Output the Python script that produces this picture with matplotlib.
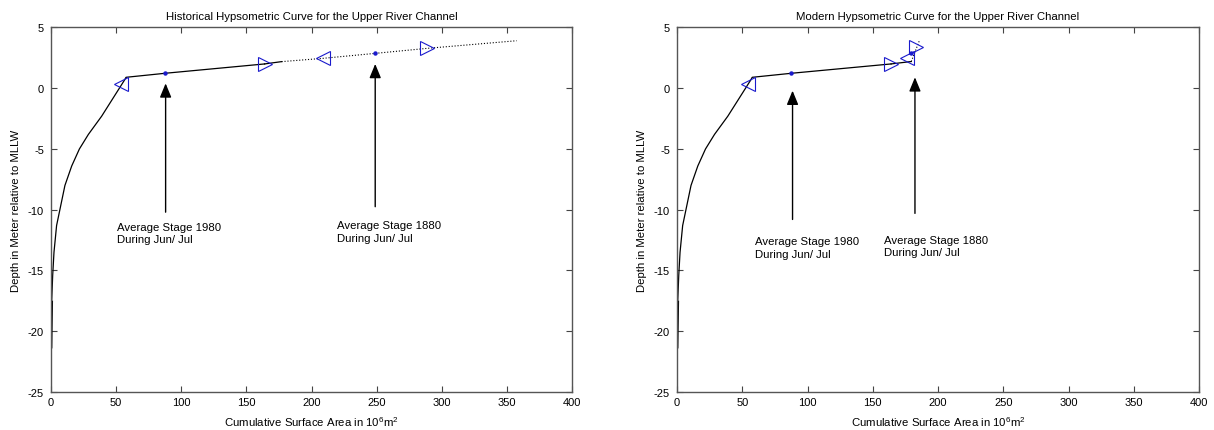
import matplotlib.pyplot as plt

plt.rcParams["font.family"] = ["Liberation Sans", "DejaVu Sans"]
plt.rcParams["axes.unicode_minus"] = False
plt.rcParams["mathtext.default"] = "regular"

# bathymetric curve (shared by both periods), area in 10^6 m^2 vs depth in m
curve_area = [0.0, 0.5, 1.3, 2.3, 4.3, 7.4, 10.7, 15.9, 21.8, 28.7, 38.9,
              56.6, 57.6, 87.5, 164.0]
curve_depth = [-21.3, -17.6, -15.4, -13.5, -11.3, -9.7, -8.0, -6.4, -5.0,
               -3.8, -2.3, 0.7, 0.9, 1.23, 2.0]

# historical extension
hist_end_area = [164.0, 177.0]
hist_end_depth = [2.0, 2.19]
hist_dot_area = [177.0, 208.7, 248.9, 288.5, 357.5]
hist_dot_depth = [2.19, 2.46, 2.87, 3.28, 3.91]

# modern extension
mod_end_area = [164.0, 179.5]
mod_end_depth = [2.0, 2.2]
mod_dot_area = [179.5, 182.0, 186.0]
mod_dot_depth = [2.2, 2.9, 4.0]

# marker positions: (left triangle, stage dot, right triangle)
hist_left_tri = ([54.0, 208.7], [0.36, 2.46])
hist_right_tri = ([164.0, 288.5], [2.0, 3.28])
hist_stage_dot = ([87.5, 248.9], [1.23, 2.87])

mod_left_tri = ([54.0, 176.0], [0.36, 2.46])
mod_right_tri = ([164.0, 183.1], [2.0, 3.42])
mod_stage_dot = ([87.5, 179.6], [1.23, 2.93])

# arrows: (x, tip y, tail y)
hist_arrows = [(88.0, 0.4, -10.2), (248.9, 2.0, -9.75)]
mod_arrows = [(88.5, -0.2, -10.8), (182.3, 0.9, -10.3)]

# labels: (x, y of text centre)
hist_notes = [(50.8, -11.9, "Average Stage 1980\nDuring Jun/ Jul"),
              (219.5, -11.8, "Average Stage 1880\nDuring Jun/ Jul")]
mod_notes = [(59.9, -13.1, "Average Stage 1980\nDuring Jun/ Jul"),
             (158.4, -13.0, "Average Stage 1880\nDuring Jun/ Jul")]

fig = plt.figure(figsize=(12.14, 4.31), dpi=100, facecolor="white")
ax1 = fig.add_axes([0.0420, 0.0882, 0.4292, 0.8457])
ax2 = fig.add_axes([0.5577, 0.0882, 0.4300, 0.8457])

panels = [
    (ax1, "Historical Hypsometric Curve for the Upper River Channel",
     hist_end_area, hist_end_depth, hist_dot_area, hist_dot_depth,
     hist_left_tri, hist_right_tri, hist_stage_dot, hist_arrows, hist_notes),
    (ax2, "Modern Hypsometric Curve for the Upper River Channel",
     mod_end_area, mod_end_depth, mod_dot_area, mod_dot_depth,
     mod_left_tri, mod_right_tri, mod_stage_dot, mod_arrows, mod_notes),
]

for (ax, title, ea, ed, da, dd, ltri, rtri, sdot, arrows, notes) in panels:
    ax.plot(curve_area, curve_depth, color="black", linewidth=0.9)
    ax.plot(curve_area[:2], curve_depth[:2], color="black", linewidth=2)
    ax.plot(ea, ed, color="black", linewidth=0.9)
    ax.plot(da, dd, color="black", linestyle=":", linewidth=0.8)
    ax.plot(ltri[0], ltri[1], linestyle="none", marker="<", markersize=9.5,
            markerfacecolor="none", markeredgecolor="#1a1acc",
            markeredgewidth=0.8)
    ax.plot(rtri[0], rtri[1], linestyle="none", marker=">", markersize=9.5,
            markerfacecolor="none", markeredgecolor="#1a1acc",
            markeredgewidth=0.8)
    ax.plot(sdot[0], sdot[1], linestyle="none", marker="o", markersize=2.2,
            color="#1a1acc")

    for x, tip, tail in arrows:
        ax.annotate("", xy=(x, tip), xytext=(x, tail),
                    arrowprops=dict(arrowstyle="-|>,head_length=0.85,head_width=0.35",
                                    color="black", lw=1, mutation_scale=10,
                                    shrinkA=0, shrinkB=0))
    for x, y, txt in notes:
        ax.text(x, y, txt, fontsize=8.2, ha="left", va="center",
                linespacing=1.3)

    ax.set_xlim(0, 400)
    ax.set_ylim(-25, 5)
    ax.set_xticks(range(0, 401, 50))
    ax.set_yticks(range(-25, 6, 5))
    ax.tick_params(direction="in", top=True, right=True, length=4,
                   width=0.8, labelsize=8, color="#444444")
    ax.tick_params(axis="y", pad=5)
    for sp in ax.spines.values():
        sp.set_color("#555555")
        sp.set_linewidth(1)
    ax.set_title(title, fontsize=8.2, pad=6)
    ax.set_xlabel("Cumulative Surface Area in 10$^6$m$^2$", fontsize=8.2,
                  labelpad=5.5)
    ax.set_ylabel("Depth in Meter relative to MLLW", fontsize=8.2)
    ax.yaxis.set_label_coords(-0.058, 0.5)

fig.savefig("out.png", dpi=100, facecolor="white")
